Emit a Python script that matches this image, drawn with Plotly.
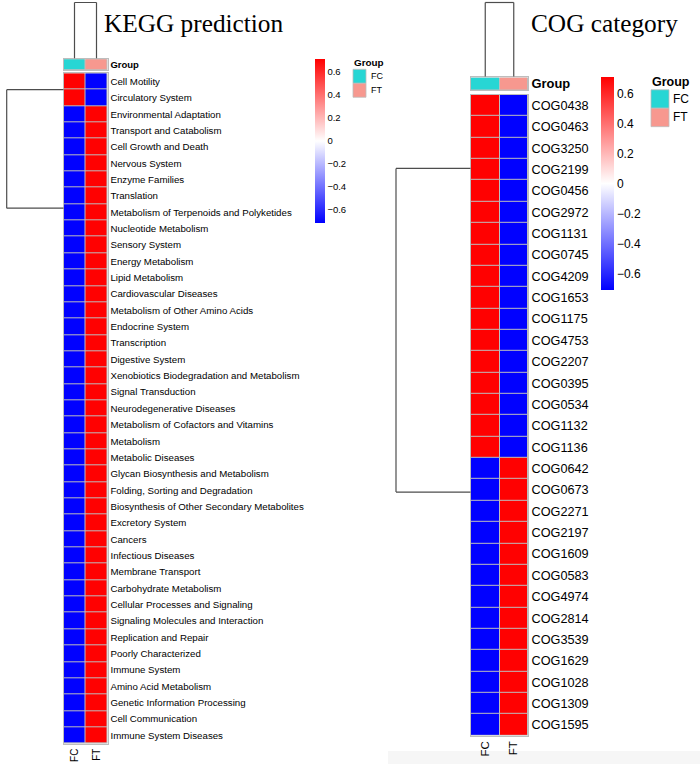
import plotly.graph_objects as go

# ---------------- data ----------------
groups = ["FC", "FT"]

kegg_labels = [
    "Cell Motility", "Circulatory System", "Environmental Adaptation",
    "Transport and Catabolism", "Cell Growth and Death", "Nervous System",
    "Enzyme Families", "Translation", "Metabolism of Terpenoids and Polyketides",
    "Nucleotide Metabolism", "Sensory System", "Energy Metabolism",
    "Lipid Metabolism", "Cardiovascular Diseases", "Metabolism of Other Amino Acids",
    "Endocrine System", "Transcription", "Digestive System",
    "Xenobiotics Biodegradation and Metabolism", "Signal Transduction",
    "Neurodegenerative Diseases", "Metabolism of Cofactors and Vitamins",
    "Metabolism", "Metabolic Diseases", "Glycan Biosynthesis and Metabolism",
    "Folding, Sorting and Degradation", "Biosynthesis of Other Secondary Metabolites",
    "Excretory System", "Cancers", "Infectious Diseases", "Membrane Transport",
    "Carbohydrate Metabolism", "Cellular Processes and Signaling",
    "Signaling Molecules and Interaction", "Replication and Repair",
    "Poorly Characterized", "Immune System", "Amino Acid Metabolism",
    "Genetic Information Processing", "Cell Communication", "Immune System Diseases",
]
kegg_fc = [0.707, 0.707] + [-0.707] * 39
kegg_ft = [-0.707, -0.707] + [0.707] * 39

cog_labels = [
    "COG0438", "COG0463", "COG3250", "COG2199", "COG0456", "COG2972", "COG1131",
    "COG0745", "COG4209", "COG1653", "COG1175", "COG4753", "COG2207", "COG0395",
    "COG0534", "COG1132", "COG1136", "COG0642", "COG0673", "COG2271", "COG2197",
    "COG1609", "COG0583", "COG4974", "COG2814", "COG3539", "COG1629", "COG1028",
    "COG1309", "COG1595",
]
cog_fc = [0.707] * 17 + [-0.707] * 13
cog_ft = [-0.707] * 17 + [0.707] * 13

cbar_ticks = [0.6, 0.4, 0.2, 0, -0.2, -0.4, -0.6]
cbar_text = ["0.6", "0.4", "0.2", "0", "\u22120.2", "\u22120.4", "\u22120.6"]

# ---------------- style ----------------
W, H = 700, 765
FC_COL = "#27D6D4"
FT_COL = "#F7988F"
GRID = "#BDBDBD"
DEND = "#4d4d4d"
SANS = "Liberation Sans, Arial, Helvetica, sans-serif"
SERIF = "Liberation Serif, Times New Roman, serif"
heat_scale = [[0, "#0000FF"], [0.5, "#FFFFFF"], [1, "#FF0000"]]
group_scale = [[0, FC_COL], [0.5, FC_COL], [0.5, FT_COL], [1, FT_COL]]


def px(x):
    return x / W


def py(y):
    return 1 - y / H


fig = go.Figure()

# main heatmaps
fig.add_trace(go.Heatmap(
    x=groups, y=kegg_labels, z=[[a, b] for a, b in zip(kegg_fc, kegg_ft)],
    coloraxis="coloraxis", xgap=1, ygap=1, xaxis="x", yaxis="y", hoverinfo="skip"))
fig.add_trace(go.Heatmap(
    x=groups, y=cog_labels, z=[[a, b] for a, b in zip(cog_fc, cog_ft)],
    coloraxis="coloraxis2", xgap=1, ygap=1, xaxis="x2", yaxis="y2", hoverinfo="skip"))

# group annotation bars
fig.add_trace(go.Heatmap(
    x=groups, y=["Group"], z=[[0, 1]], colorscale=group_scale, zmin=0, zmax=1,
    showscale=False, xgap=1, ygap=1, xaxis="x", yaxis="y3", hoverinfo="skip"))
fig.add_trace(go.Heatmap(
    x=groups, y=["Group"], z=[[0, 1]], colorscale=group_scale, zmin=0, zmax=1,
    showscale=False, xgap=1, ygap=1, xaxis="x2", yaxis="y4", hoverinfo="skip"))

axis_common = dict(showgrid=False, zeroline=False, ticks="", showline=True,
                   linecolor=GRID, linewidth=1, fixedrange=True)

# panel geometry (pixels)
L_x0, L_x1 = 63.5, 107.5
L_y0, L_y1 = 72.5, 744.5
L_g0, L_g1 = 58.3, 69.5
R_x0, R_x1 = 471.0, 528.0
R_y0, R_y1 = 94.0, 736.5
R_g0, R_g1 = 76.7, 89.5

fig.update_layout(
    width=W, height=H, margin=dict(l=0, r=0, t=0, b=0),
    paper_bgcolor="white", plot_bgcolor=GRID, showlegend=False,
    xaxis=dict(domain=[px(L_x0), px(L_x1)], anchor="y", range=[-0.5, 1.5],
               tickangle=-90, tickfont=dict(family=SANS, size=10, color="black"),
               mirror="all", **axis_common),
    yaxis=dict(domain=[py(L_y1), py(L_y0)], anchor="x", side="right",
               range=[len(kegg_labels) - 0.5, -0.5],
               tickfont=dict(family=SANS, size=9.7, color="black"),
               mirror=True, **axis_common),
    yaxis3=dict(domain=[py(L_g1), py(L_g0)], anchor="x", side="right",
                tickfont=dict(family=SANS, size=9.5, color="black", weight="bold"),
                mirror=True, **axis_common),
    xaxis2=dict(domain=[px(R_x0), px(R_x1)], anchor="y2", range=[-0.5, 1.5],
                tickangle=-90, tickfont=dict(family=SANS, size=11.5, color="black"),
                mirror="all", **axis_common),
    yaxis2=dict(domain=[py(R_y1), py(R_y0)], anchor="x2", side="right",
                range=[len(cog_labels) - 0.5, -0.5],
                tickfont=dict(family=SANS, size=12.7, color="black"),
                mirror=True, **axis_common),
    yaxis4=dict(domain=[py(R_g1), py(R_g0)], anchor="x2", side="right",
                tickfont=dict(family=SANS, size=12.9, color="black", weight="bold"),
                mirror=True, **axis_common),
    coloraxis=dict(
        colorscale=heat_scale, cmin=-0.71, cmax=0.71,
        colorbar=dict(x=px(315), xanchor="left", y=py(58), yanchor="top",
                      thickness=10, thicknessmode="pixels", len=164, lenmode="pixels",
                      xpad=0, ypad=0, outlinewidth=0, borderwidth=0, ticks="",
                      tickvals=cbar_ticks, ticktext=cbar_text,
                      tickfont=dict(family=SANS, size=9.5, color="black"))),
    coloraxis2=dict(
        colorscale=heat_scale, cmin=-0.71, cmax=0.71,
        colorbar=dict(x=px(601), xanchor="left", y=py(76), yanchor="top",
                      thickness=13, thicknessmode="pixels", len=213, lenmode="pixels",
                      xpad=0, ypad=0, outlinewidth=0, borderwidth=0, ticks="",
                      tickvals=cbar_ticks, ticktext=cbar_text,
                      tickfont=dict(family=SANS, size=12, color="black"))),
)

shapes = []
line = dict(color=DEND, width=1.2)

# faint gray band at bottom of right panel
shapes.append(dict(type="rect", xref="paper", yref="paper", x0=px(388), x1=1,
                   y0=0, y1=py(752), fillcolor="#F6F6F6", line=dict(width=0),
                   layer="below"))

# column dendrograms
for xr, top, bot in [("x", 1.5, L_g0 - 1), ("x2", 1.5, R_g0 - 1)]:
    for c in [0, 1]:
        shapes.append(dict(type="line", xref=xr, yref="paper", x0=c, x1=c,
                           y0=py(bot), y1=py(top), line=line))
    shapes.append(dict(type="line", xref=xr, yref="paper", x0=0, x1=1,
                       y0=py(top), y1=py(top), line=line))

# row dendrograms
def row_dend(yref, xl, xr, ya, yb):
    out = []
    for yy in (ya, yb):
        out.append(dict(type="line", xref="paper", yref=yref, x0=px(xl), x1=px(xr),
                        y0=yy, y1=yy, line=line))
    out.append(dict(type="line", xref="paper", yref=yref, x0=px(xl), x1=px(xl),
                    y0=ya, y1=yb, line=line))
    return out

shapes += row_dend("y", 6.7, L_x0, 0.5, 7.75)
shapes += row_dend("y2", 396, R_x0 - 0.5, 2.95, 18.1)

# legend swatches
def legend(x0, w, ys, ty, tsize, lsize, tx):
    sh, an = [], []
    for (a, b), col, lab in zip(ys, [FC_COL, FT_COL], groups):
        sh.append(dict(type="rect", xref="paper", yref="paper", x0=px(x0), x1=px(x0 + w),
                       y0=py(b), y1=py(a), fillcolor=col, line=dict(color=GRID, width=0.8)))
        an.append(dict(text=lab, xref="paper", yref="paper", x=px(tx), y=py((a + b) / 2),
                       xanchor="left", yanchor="middle", showarrow=False,
                       font=dict(family=SANS, size=lsize, color="black")))
    an.append(dict(text="Group", xref="paper", yref="paper", x=px(x0 - 1), y=py(ty),
                   xanchor="left", yanchor="middle", showarrow=False,
                   font=dict(family=SANS, size=tsize, color="black", weight="bold")))
    return sh, an

s1, a1 = legend(353, 13, [(68.5, 82.5), (82.5, 96.5)], 62, 9.9, 9, 369)
s2, a2 = legend(651, 18, [(89, 107.5), (107.5, 126)], 81, 12.5, 12, 671)
shapes += s1 + s2

annotations = a1 + a2
annotations.append(dict(text="KEGG prediction", xref="paper", yref="paper",
                        x=px(102), y=py(22), xanchor="left", yanchor="middle",
                        showarrow=False, font=dict(family=SERIF, size=25.3, color="black")))
annotations.append(dict(text="COG category", xref="paper", yref="paper",
                        x=px(529), y=py(22), xanchor="left", yanchor="middle",
                        showarrow=False, font=dict(family=SERIF, size=25.3, color="black")))

fig.update_layout(shapes=shapes, annotations=annotations)

fig.write_html(
    "out.html",
    config={"displayModeBar": False, "staticPlot": True},
    post_script="document.body.style.margin='0';document.body.style.padding='0';"
                "document.body.style.overflow='hidden';",
)
